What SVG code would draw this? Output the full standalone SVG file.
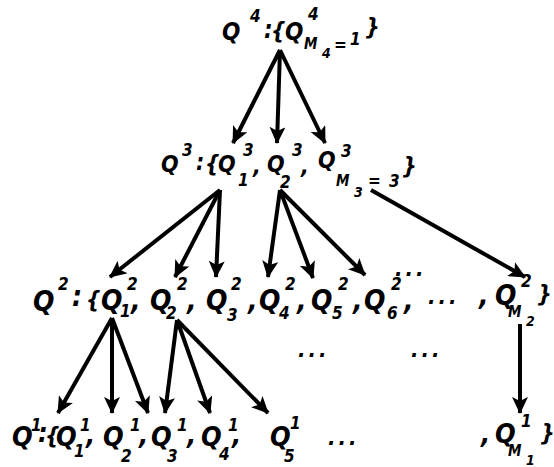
<svg xmlns="http://www.w3.org/2000/svg" width="554" height="467" viewBox="0 0 554 467">
<style>
text{font-family:"DejaVu Sans Condensed","DejaVu Sans",sans-serif;font-style:oblique;font-weight:bold;fill:#000}
.l4{font-size:24px}.l3{font-size:23px}.l2{font-size:28px}.l1{font-size:27px}
.br{font-size:23px}
.sup{font-size:17px}.sub{font-size:17px}.m{font-size:15px}.ss{font-size:14px}
.dots{font-size:22px;letter-spacing:3px}
.arr{stroke:#000;stroke-width:4;fill:none;marker-end:url(#ah)}
</style>
<defs>
<marker id="ah" markerUnits="userSpaceOnUse" markerWidth="18" markerHeight="16" refX="16" refY="8" orient="auto">
<path d="M0,0 L17,8 L0,16 L4,8 Z" fill="#000"/>
</marker>
</defs>
<rect width="554" height="467" fill="#fff"/>
<g id="connectors">
<line class="arr" x1="280" y1="50" x2="233" y2="143"/>
<line class="arr" x1="280" y1="50" x2="277" y2="143"/>
<line class="arr" x1="280" y1="50" x2="325" y2="143"/>
<line class="arr" x1="220" y1="190" x2="110" y2="277"/>
<line class="arr" x1="220" y1="190" x2="175" y2="277"/>
<line class="arr" x1="220" y1="190" x2="216" y2="277"/>
<line class="arr" x1="280" y1="190" x2="268" y2="277"/>
<line class="arr" x1="280" y1="190" x2="313" y2="278"/>
<line class="arr" x1="280" y1="190" x2="365" y2="275"/>
<line class="arr" x1="371" y1="190" x2="525" y2="277"/>
<line class="arr" x1="112" y1="318" x2="58" y2="413"/>
<line class="arr" x1="112" y1="318" x2="112" y2="413"/>
<line class="arr" x1="112" y1="318" x2="148" y2="413"/>
<line class="arr" x1="177" y1="320" x2="165" y2="413"/>
<line class="arr" x1="177" y1="320" x2="210" y2="413"/>
<line class="arr" x1="177" y1="320" x2="268" y2="413"/>
<line class="arr" x1="520" y1="324" x2="520" y2="413"/>
</g>
<g id="Q4">
<text class="l4" x="222" y="40">Q</text><text class="sup" x="250" y="22">4</text>
<text class="l4" x="264" y="38">:</text><text class="br" x="271" y="39">{</text>
</g>
<g id="Q4-M4">
<text class="l4" x="285" y="40">Q</text><text class="sup" x="308" y="20">4</text>
<text class="m" x="304" y="49">M</text><text class="ss" x="322" y="58">4</text>
<text class="sub" x="334" y="51">=</text><text class="sub" x="350" y="45">1</text>
<text class="br" x="365" y="35">}</text>
</g>
<g id="Q3">
<text class="l3" x="161" y="172">Q</text><text class="sup" x="182" y="156">3</text>
<text class="l3" x="196" y="170">:</text><text class="br" x="205" y="172">{</text>
</g>
<g id="Q3-1">
<text class="l3" x="218" y="172">Q</text><text class="sup" x="243" y="156">3</text>
<text class="sub" x="238" y="186">1</text><text class="l3" x="253" y="174">,</text>
</g>
<g id="Q3-2">
<text class="l3" x="267" y="172">Q</text><text class="sup" x="292" y="156">3</text>
<text class="sub" x="280" y="188">2</text><text class="l3" x="301" y="174">,</text>
</g>
<g id="Q3-M3">
<text class="l3" x="318" y="168">Q</text><text class="sup" x="341" y="157">3</text>
<text class="m" x="336" y="186">M</text><text class="ss" x="354" y="197">3</text>
<text class="sub" x="368" y="187">=</text><text class="sub" x="389" y="187">3</text>
<text class="br" x="402" y="174">}</text>
</g>
<g id="Q2">
<text class="l2" x="33" y="311">Q</text><text class="sup" x="58" y="290">2</text>
<text class="l2" x="72" y="306">:</text><text class="br" x="86" y="308">{</text>
</g>
<g id="Q2-1">
<text class="l2" x="101" y="310">Q</text><text class="sup" x="127" y="290">2</text>
<text class="sub" x="120" y="317">1</text><text class="l2" x="131" y="310">,</text>
</g>
<g id="Q2-2">
<text class="l2" x="150" y="310">Q</text><text class="sup" x="177" y="290">2</text>
<text class="sub" x="166" y="319">2</text><text class="l2" x="187" y="310">,</text>
</g>
<g id="Q2-3">
<text class="l2" x="206" y="310">Q</text><text class="sup" x="231" y="290">2</text>
<text class="sub" x="227" y="321">3</text><text class="l2" x="248" y="310">,</text>
</g>
<g id="Q2-4">
<text class="l2" x="259" y="310">Q</text><text class="sup" x="285" y="290">2</text>
<text class="sub" x="279" y="319">4</text><text class="l2" x="297" y="310">,</text>
</g>
<g id="Q2-5">
<text class="l2" x="311" y="310">Q</text><text class="sup" x="338" y="290">2</text>
<text class="sub" x="332" y="319">5</text><text class="l2" x="353" y="310">,</text>
</g>
<g id="Q2-6">
<text class="l2" x="364" y="310">Q</text><text class="sup" x="391" y="290">2</text>
<text class="sub" x="387" y="319">6</text><text class="l2" x="404" y="310">,</text>
<text class="dots" x="395" y="276">...</text>
</g>
<g id="Q2-dots">
<text class="dots" x="428" y="304">...</text>
<text class="dots" x="298" y="357">...</text>
<text class="dots" x="411" y="357">...</text>
</g>
<g id="Q2-M2">
<text class="l2" x="479" y="305">,</text>
<text class="l2" x="495" y="305">Q</text><text class="sup" x="521" y="287">2</text>
<text class="m" x="508" y="317">M</text><text class="ss" x="526" y="326">2</text>
<text class="br" x="537" y="302">}</text>
</g>
<g id="Q1">
<text class="l1" x="12" y="446">Q</text><text class="sup" x="31" y="431">1</text>
<text class="l1" x="38" y="442">:</text><text class="br" x="45" y="444">{</text>
</g>
<g id="Q1-1">
<text class="l1" x="56" y="446">Q</text><text class="sup" x="80" y="431">1</text>
<text class="sub" x="74" y="457">1</text><text class="l1" x="86" y="444">,</text>
</g>
<g id="Q1-2">
<text class="l1" x="103" y="446">Q</text><text class="sup" x="130" y="431">1</text>
<text class="sub" x="121" y="462">2</text><text class="l1" x="139" y="444">,</text>
</g>
<g id="Q1-3">
<text class="l1" x="151" y="446">Q</text><text class="sup" x="177" y="431">1</text>
<text class="sub" x="167" y="462">3</text><text class="l1" x="187" y="444">,</text>
</g>
<g id="Q1-4">
<text class="l1" x="201" y="446">Q</text><text class="sup" x="228" y="431">1</text>
<text class="sub" x="219" y="460">4</text><text class="l1" x="232" y="444">,</text>
</g>
<g id="Q1-5">
<text class="l1" x="270" y="446">Q</text><text class="sup" x="290" y="429">1</text>
<text class="sub" x="284" y="462">5</text>
</g>
<g id="Q1-dots">
<text class="dots" x="328" y="445">...</text>
</g>
<g id="Q1-M1">
<text class="l1" x="481" y="443">,</text>
<text class="l1" x="495" y="443">Q</text><text class="sup" x="521" y="427">1</text>
<text class="m" x="508" y="456">M</text><text class="ss" x="526" y="465">1</text>
<text class="br" x="540" y="441">}</text>
</g>
</svg>
